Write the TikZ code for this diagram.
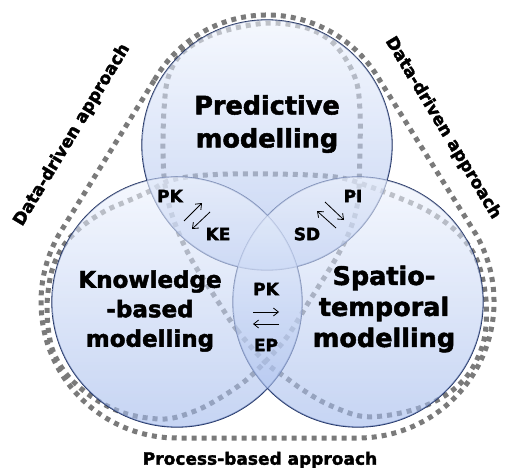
\documentclass[tikz,border=0pt]{standalone}
\usepackage{fontspec}
\setmainfont{DejaVu Sans}[BoldFeatures={FakeBold=2}]
\usetikzlibrary{arrows.meta,calc}
\definecolor{dotgray}{RGB}{122,122,122}
\definecolor{rimblue}{RGB}{22,40,90}
\definecolor{shadetop}{RGB}{238,243,253}
\definecolor{shadebot}{RGB}{160,184,235}
\begin{document}
\begin{tikzpicture}[x=1pt,y=-1pt,
  approach/.style={draw=dotgray, line width=5pt, dash pattern=on 5pt off 5pt},
  rim/.style={draw=rimblue, line width=1.3pt},
  disc/.style={top color=shadetop, bottom color=shadebot, fill opacity=0.6},
  bigtitle/.style={font=\bfseries\fontsize{25.5}{33}\selectfont, align=center},
  smalltitle/.style={font=\bfseries\fontsize{23}{29.5}\selectfont, align=center},
  tag/.style={font=\bfseries\fontsize{17}{17}\selectfont},
  flow/.style={-{Straight Barb[length=5pt,width=8pt]}, line width=0.8pt},
  side/.style={font=\bfseries\fontsize{17}{18}\selectfont}
]
\useasboundingbox (0,0) rectangle (506,468);

% circle centres
\coordinate (T) at (267,145);
\coordinate (L) at (177,302);
\coordinate (R) at (358,302);

% outer approach boundary around all three circles
\draw[approach]
  ($(T)+(210:130)$) arc[start angle=210, end angle=330, radius=130]
  -- ($(R)+(330:136)$) arc[start angle=330, end angle=450, radius=136]
  -- ($(L)+(90:136)$) arc[start angle=90, end angle=210, radius=136]
  -- cycle;

% inner three-lobed approach loop
\draw[approach] plot[smooth cycle, tension=0.55] coordinates {
  (265,362) (237,330) (217,300) (190,257) (173,218) (165,185)
  (163,150) (164,110) (168,78) (181,54) (207,37) (240,27) (273,23)
  (307,28) (331,41) (347,61) (357,84) (360,112) (360,150) (358,200)
  (350,230) (335,260) (310,300) (287,337)
  (265,362) (245,381) (220,398) (195,411) (165,419) (127,414)
  (95,399) (68,376) (52,348) (47,310) (51,274) (62,248) (80,228)
  (105,211) (130,200) (150,191) (168,181) (195,176) (230,174)
  (270,174) (310,175) (342,178) (368,186) (397,197) (428,211)
  (457,232) (477,260) (486,300) (484,340) (470,372) (449,393)
  (422,407) (390,415) (360,416) (327,404) (303,390) (285,377)
};

% circle rims, then translucent discs on top
\foreach \c in {T,L,R} \draw[rim] (\c) circle[radius=125];
\foreach \c in {T,L,R} \shade[disc] (\c) circle[radius=125];

% circle titles
\node[bigtitle] (pred) at (267,124) {Predictive\\modelling};
\node[smalltitle] (know) at (150,311) {Knowledge\\-based\\modelling};
\node[bigtitle, font=\bfseries\fontsize{25.5}{31}\selectfont] (spat) at (384,309) {Spatio-\\temporal\\modelling};

% overlap tags
\node[tag] (pk1) at (170,196) {PK};
\node[tag] (ke)  at (218,234) {KE};
\node[tag] (pi)  at (353,196) {PI};
\node[tag] (sd)  at (307,234) {SD};
\node[tag] (pk2) at (266,289) {PK};
\node[tag] (ep)  at (266,345) {EP};

% exchange arrows
\coordinate (a1s) at (184,221); \coordinate (a1e) at (202,203);
\coordinate (a2s) at (210,212); \coordinate (a2e) at (192,229);
\coordinate (b1s) at (336,228); \coordinate (b1e) at (317,211);
\coordinate (b2s) at (325,202); \coordinate (b2e) at (344,220);
\coordinate (c1s) at (253,312); \coordinate (c1e) at (279,312);
\coordinate (c2s) at (279,324); \coordinate (c2e) at (253,324);
\draw[flow] (a1s) -- (a1e);
\draw[flow] (a2s) -- (a2e);
\draw[flow] (b1s) -- (b1e);
\draw[flow] (b2s) -- (b2e);
\draw[flow] (c1s) -- (c1e);
\draw[flow] (c2s) -- (c2e);

% approach labels
\node[side, rotate=59]  (ddl) at (72,135)  {Data-driven approach};
\node[side, rotate=-59] (ddr) at (443,128) {Data-driven approach};
\node[side] (pba) at (260,460) {Process-based approach};
\end{tikzpicture}
\end{document}
